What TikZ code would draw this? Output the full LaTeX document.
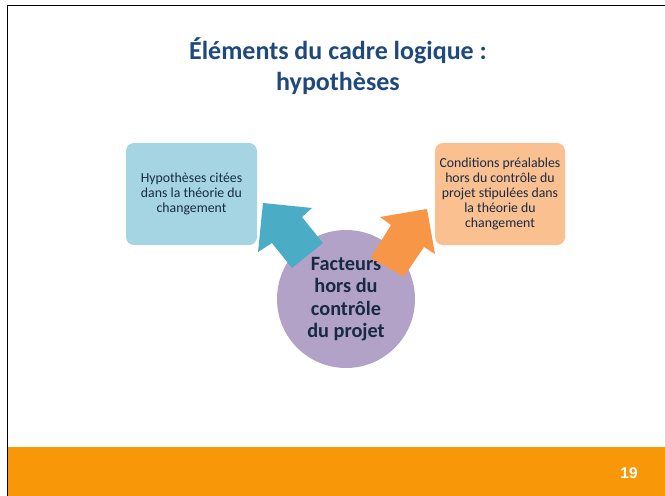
\documentclass[tikz,border=0pt]{standalone}
\usepackage{fontspec}
\setmainfont{Carlito}
\newfontfamily\numfont{Liberation Sans}
\definecolor{titleblue}{RGB}{31,73,125}
\definecolor{textnavy}{RGB}{23,42,68}
\definecolor{boxblue}{RGB}{165,213,226}
\definecolor{boxorange}{RGB}{250,192,144}
\definecolor{arrowblue}{RGB}{75,172,198}
\definecolor{arroworange}{RGB}{247,150,70}
\definecolor{circlepurple}{RGB}{178,162,199}
\definecolor{barorange}{RGB}{248,152,8}

\begin{document}
\begin{tikzpicture}[x=1pt,y=-1pt,
  box/.style={rounded corners=8pt, minimum width=131pt, minimum height=102pt,
    align=center, text=textnavy, inner sep=2pt,
    font=\fontsize{13.8}{15}\selectfont}]
\useasboundingbox (0,0) rectangle (665,496);

% Frame and footer
\draw[line width=1.7pt] (7.5,496) -- (7.5,5.5) -- (665,5.5);
\fill[barorange] (8.4,447) rectangle (665,496);
\node[text=white, font=\numfont\bfseries\fontsize{15.5}{18}\selectfont] (pagenum) at (629,473.5) {19};

% Title
\node[anchor=north, inner sep=0pt, align=center, text=titleblue,
  font=\bfseries\fontsize{26}{31.3}\selectfont] (title) at (338,37.5)
  {Éléments du cadre logique :\\hypothèses};

% Centre circle
\node[circle, fill=circlepurple, minimum size=138pt, inner sep=0pt, align=center,
  text=textnavy, font=\bfseries\fontsize{20.3}{22.5}\selectfont] (factors) at (346,299)
  {Facteurs\\hors du\\contrôle\\du projet};

% Block arrows
\fill[arrowblue] (263,203) -- (312,208) -- (302,217) -- (323,243)
  -- (292,268) -- (272,243) -- (258,252) -- cycle;
\fill[arroworange] (427,209) -- (435,254) -- (424,247) -- (404,276.5)
  -- (370.5,258) -- (391,225) -- (380,217) -- cycle;

% Boxes
\node[box, fill=boxblue] (hypbox) at (191.5,194)
  {Hypothèses citées\\dans la théorie du\\changement};
\node[box, fill=boxorange, minimum width=130pt] (condbox) at (500,194)
  {Conditions préalables\\hors du contrôle du\\projet stipulées dans\\la théorie du\\changement};
\end{tikzpicture}
\end{document}
